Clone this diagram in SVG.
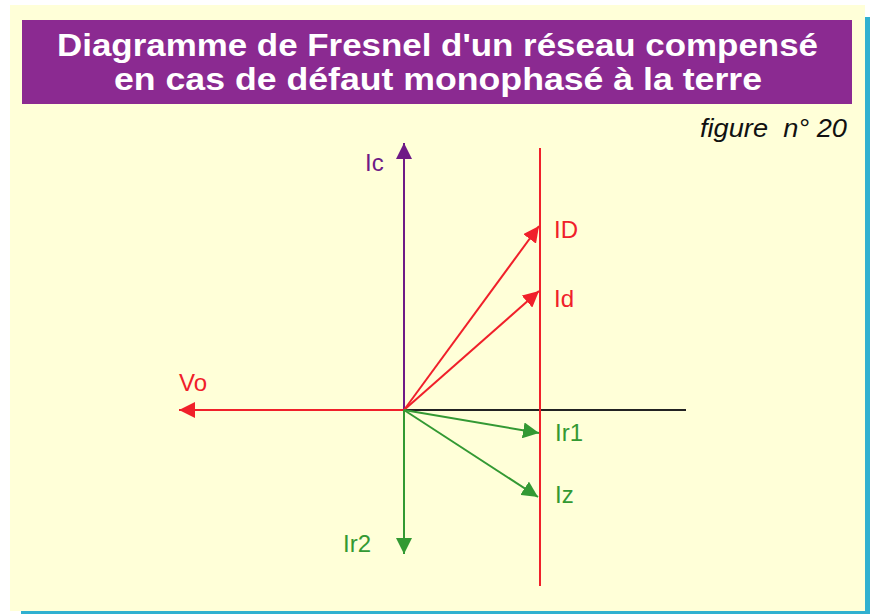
<svg xmlns="http://www.w3.org/2000/svg" width="870" height="614" viewBox="0 0 870 614">
<style>
.lbl{font-family:"Liberation Sans",Arial,sans-serif;font-size:24px}
.red{fill:#f0202a}.grn{fill:#339933}.pur{fill:#6e1a86}
.vec{stroke-width:2;fill:none}
</style>
<defs>
<marker id="aR" viewBox="0 0 16 16" refX="16" refY="8" markerWidth="16" markerHeight="16" markerUnits="userSpaceOnUse" orient="auto"><path d="M0,0 L16,8 L0,16 Z" fill="#f0202a"/></marker>
<marker id="aG" viewBox="0 0 16 16" refX="16" refY="8" markerWidth="16" markerHeight="16" markerUnits="userSpaceOnUse" orient="auto"><path d="M0,0 L16,8 L0,16 Z" fill="#339933"/></marker>
<marker id="aP" viewBox="0 0 16 16" refX="16" refY="8" markerWidth="16" markerHeight="16" markerUnits="userSpaceOnUse" orient="auto"><path d="M0,0 L16,8 L0,16 Z" fill="#6e1a86"/></marker>
</defs>
<rect x="0" y="0" width="870" height="614" fill="#ffffff"/>
<rect x="21" y="17" width="855" height="606" fill="#30b0d0"/>
<rect x="10" y="5" width="855" height="606" fill="#ffffd8"/>
<g id="title">
<rect x="22" y="20" width="830" height="84" fill="#8b2a91"/>
<text x="57" y="56" textLength="761" lengthAdjust="spacingAndGlyphs" font-family="'Liberation Sans',Arial,sans-serif" font-weight="bold" font-size="31" fill="#ffffff">Diagramme de Fresnel d'un réseau compensé</text>
<text x="114" y="90" textLength="648" lengthAdjust="spacingAndGlyphs" font-family="'Liberation Sans',Arial,sans-serif" font-weight="bold" font-size="31" fill="#ffffff">en cas de défaut monophasé à la terre</text>
</g>
<text x="700" y="137" textLength="147" lengthAdjust="spacingAndGlyphs" font-family="'Liberation Sans',Arial,sans-serif" font-style="italic" font-size="25" fill="#111" xml:space="preserve">figure  n° 20</text>
<g id="connectors">
<line x1="404" y1="410" x2="686" y2="410" stroke="#222" stroke-width="2"/>
<line x1="540" y1="148" x2="540" y2="586" stroke="#f0202a" stroke-width="2"/>
<line class="vec" x1="404" y1="410" x2="179" y2="410" stroke="#f0202a" marker-end="url(#aR)"/>
<line class="vec" x1="404" y1="410" x2="404" y2="143" stroke="#6e1a86" marker-end="url(#aP)"/>
<line class="vec" x1="404" y1="410" x2="539" y2="226" stroke="#f0202a" marker-end="url(#aR)"/>
<line class="vec" x1="404" y1="410" x2="539" y2="291" stroke="#f0202a" marker-end="url(#aR)"/>
<line class="vec" x1="404" y1="410" x2="539" y2="433" stroke="#339933" marker-end="url(#aG)"/>
<line class="vec" x1="404" y1="410" x2="538" y2="497" stroke="#339933" marker-end="url(#aG)"/>
<line class="vec" x1="404" y1="410" x2="404" y2="554" stroke="#339933" marker-end="url(#aG)"/>
</g>
<g id="Ic"><text class="lbl pur" x="365" y="171">Ic</text></g>
<g id="ID"><text class="lbl red" x="554" y="238">ID</text></g>
<g id="Id"><text class="lbl red" x="554" y="307">Id</text></g>
<g id="Vo"><text class="lbl red" x="179" y="391">Vo</text></g>
<g id="Ir1"><text class="lbl grn" x="555" y="441">Ir1</text></g>
<g id="Iz"><text class="lbl grn" x="555" y="503">Iz</text></g>
<g id="Ir2"><text class="lbl grn" x="343" y="552">Ir2</text></g>
</svg>
